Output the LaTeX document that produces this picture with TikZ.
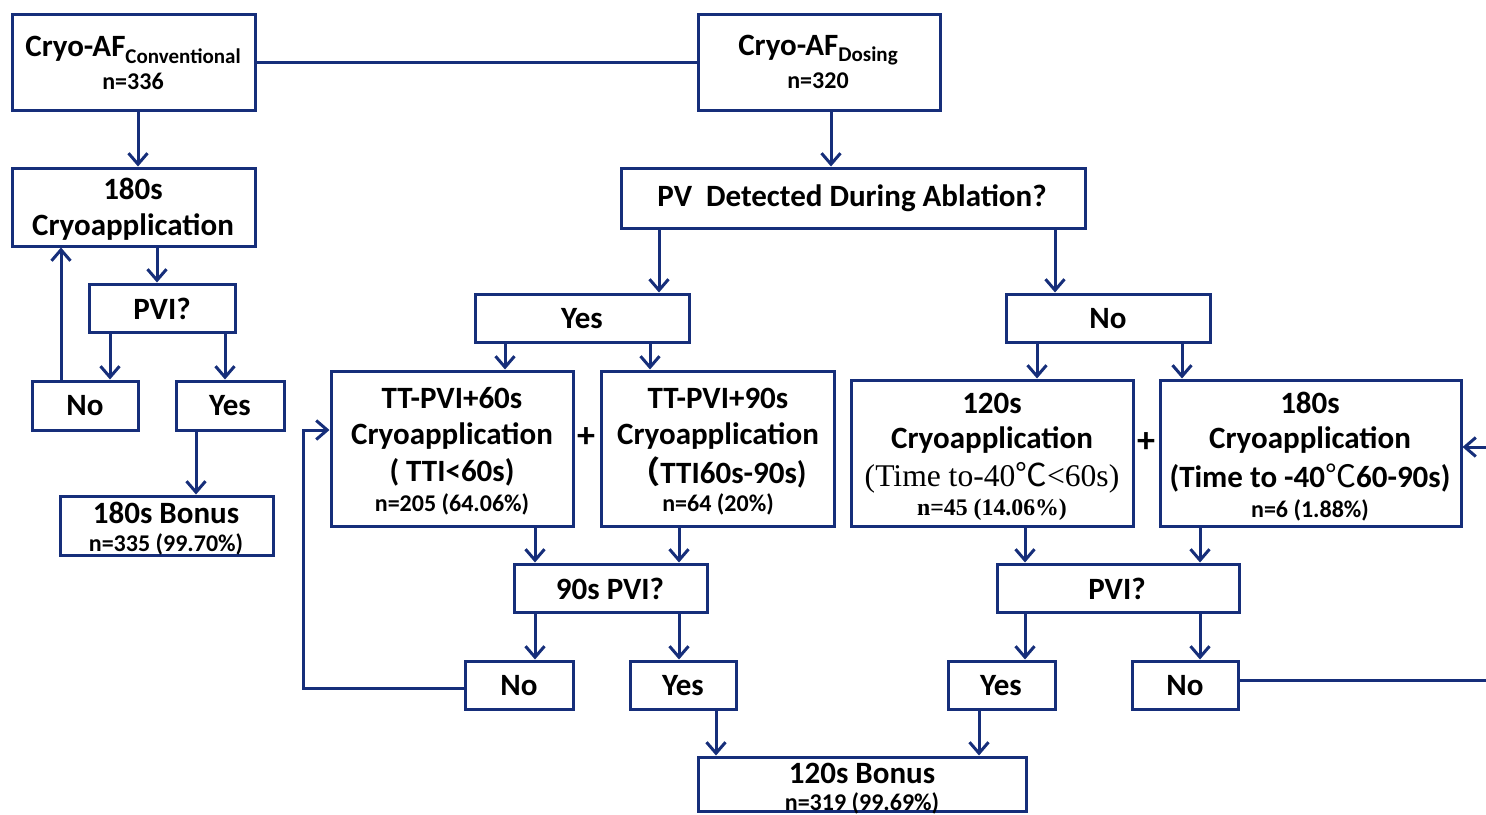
\documentclass[tikz,border=0pt]{standalone}
\usepackage{fontspec}
\setmainfont{Carlito}
\newfontfamily\tnr{Liberation Serif}
\newfontfamily\cjk{Noto Sans CJK SC}
\usetikzlibrary{arrows.meta,fit}
\definecolor{navy}{RGB}{22,46,122}
\tikzset{
  box/.style={draw=navy, line width=1.5pt, inner sep=0pt, fill=none},
  arr/.style={draw=navy, line width=1.5pt, -{Straight Barb[length=5.5pt,width=9.5pt,line width=1.5pt]}},
  ln/.style={draw=navy, line width=1.5pt},
  big/.style={inner sep=0pt, font=\bfseries\fontsize{15.5}{17}\selectfont},
  sml/.style={inner sep=0pt, font=\bfseries\fontsize{12}{13}\selectfont},
}
\begin{document}
\begin{tikzpicture}[x=0.5pt,y=-0.5pt]
\useasboundingbox (0,0) rectangle (1486,814);
% boxes
\node[box, fit={(12,14)(255,110)}] (conv) {};
\node[box, fit={(698,14)(940,110)}] (dos) {};
\node[box, fit={(12,168)(255,246)}] (cryoL) {};
\node[box, fit={(89,284)(235,332)}] (pviL) {};
\node[box, fit={(32,381)(138,430)}] (noL) {};
\node[box, fit={(176,381)(284,430)}] (yesL) {};
\node[box, fit={(60,496)(273,555)}] (bonL) {};
\node[box, fit={(621,168)(1085,228)}] (pvd) {};
\node[box, fit={(475,294)(689,342)}] (yesM) {};
\node[box, fit={(1006,294)(1210,342)}] (noM) {};
\node[box, fit={(331,371)(573,526)}] (tt60) {};
\node[box, fit={(601,371)(834,526)}] (tt90) {};
\node[box, fit={(851,380)(1133,526)}] (c120) {};
\node[box, fit={(1160,380)(1461,526)}] (c180) {};
\node[box, fit={(514,564)(707,612)}] (pvi90) {};
\node[box, fit={(997,564)(1239,612)}] (pviR) {};
\node[box, fit={(465,661)(573,709)}] (noB) {};
\node[box, fit={(630,661)(736,709)}] (yesB) {};
\node[box, fit={(948,661)(1055,709)}] (yesR) {};
\node[box, fit={(1132,661)(1238,709)}] (noR) {};
\node[box, fit={(698,757)(1026,811)}] (bonM) {};
% texts
\node[big] (t1) at (133,50) {Cryo-AF\raisebox{-0.45ex}{\fontsize{10.5}{11}\selectfont Conventional}};
\node[sml] (t2) at (133,81) {n=336};
\node[big] (t3) at (818,50) {Cryo-AF\raisebox{-0.45ex}{\fontsize{10.5}{11}\selectfont Dosing}};
\node[sml] (t4) at (818,81) {n=320};
\node[big] (t5) at (133,189) {180s};
\node[big] (t6) at (133,227) {Cryoapplication};
\node[big] (t7) at (162,309) {PVI?};
\node[big] (t8) at (85,406) {No};
\node[big] (t9) at (230,406) {Yes};
\node[big] (t10) at (166,513) {180s Bonus};
\node[sml] (t11) at (166,544) {n=335 (99.70\%)};
\node[big] (t12) at (852,198) {PV\ \ Detected During Ablation?};
\node[big] (t13) at (582,319) {Yes};
\node[big] (t14) at (1108,319) {No};
\node[big] (t15) at (452,398) {TT-PVI+60s};
\node[big] (t16) at (452,436) {Cryoapplication};
\node[big] (t17) at (452,472) {( TTI<60s)};
\node[sml] (t18) at (452,504) {n=205 (64.06\%)};
\node[big] (t19) at (718,398) {TT-PVI+90s};
\node[big] (t20) at (718,436) {Cryoapplication};
\node[big] (t21) at (718,472) {{\cjk （}TTI60s-90s)};
\node[sml] (t22) at (718,504) {n=64 (20\%)};
\node[big, font=\bfseries\fontsize{18}{18}\selectfont] (t23) at (586,438) {+};
\node[big, font=\bfseries\fontsize{18}{18}\selectfont] (t24) at (1146,443) {+};
\node[big] (t25) at (992,403) {120s};
\node[big] (t26) at (992,440) {Cryoapplication};
\node[inner sep=0pt, font=\tnr\fontsize{15.8}{17}\selectfont] (t27) at (992,478) {(Time to-40{\cjk\mdseries ℃}<60s)};
\node[inner sep=0pt, font=\tnr\bfseries\fontsize{11.9}{13}\selectfont] (t28) at (992,510) {n=45 (14.06\%)};
\node[big] (t29) at (1310,403) {180s};
\node[big] (t30) at (1310,440) {Cryoapplication};
\node[big] (t31) at (1310,478) {(Time to -40{\cjk\mdseries ℃}60-90s)};
\node[sml] (t32) at (1310,510) {n=6 (1.88\%)};
\node[big] (t33) at (610,589) {90s PVI?};
\node[big] (t34) at (1117,589) {PVI?};
\node[big] (t35) at (519,686) {No};
\node[big] (t36) at (683,686) {Yes};
\node[big] (t37) at (1001,686) {Yes};
\node[big] (t38) at (1185,686) {No};
\node[big] (t39) at (862,773) {120s Bonus};
\node[sml] (t40) at (862,803) {n=319 (99.69\%)};
% connectors
\draw[ln] (conv.east |- 0,62) -- (dos.west |- 0,62);
\draw[arr] (conv.south -| 138,0) -- (cryoL.north -| 138,0);
\draw[arr] (cryoL.south -| 157,0) -- (pviL.north -| 157,0);
\draw[arr] (pviL.south -| 110,0) -- (noL.north -| 110,0);
\draw[arr] (pviL.south -| 225,0) -- (yesL.north -| 225,0);
\draw[arr] (noL.north -| 61,0) -- (cryoL.south -| 61,0);
\draw[arr] (yesL.south -| 196,0) -- (bonL.north -| 196,0);
\draw[arr] (dos.south -| 831,0) -- (pvd.north -| 831,0);
\draw[arr] (pvd.south -| 659,0) -- (yesM.north -| 659,0);
\draw[arr] (pvd.south -| 1055,0) -- (noM.north -| 1055,0);
\draw[arr] (yesM.south -| 505,0) -- (tt60.north -| 505,0);
\draw[arr] (yesM.south -| 650,0) -- (tt90.north -| 650,0);
\draw[arr] (noM.south -| 1037,0) -- (c120.north -| 1037,0);
\draw[arr] (noM.south -| 1182,0) -- (c180.north -| 1182,0);
\draw[arr] (tt60.south -| 535,0) -- (pvi90.north -| 535,0);
\draw[arr] (tt90.south -| 679,0) -- (pvi90.north -| 679,0);
\draw[arr] (c120.south -| 1025,0) -- (pviR.north -| 1025,0);
\draw[arr] (c180.south -| 1200,0) -- (pviR.north -| 1200,0);
\draw[arr] (pvi90.south -| 535,0) -- (noB.north -| 535,0);
\draw[arr] (pvi90.south -| 679,0) -- (yesB.north -| 679,0);
\draw[arr] (pviR.south -| 1025,0) -- (yesR.north -| 1025,0);
\draw[arr] (pviR.south -| 1200,0) -- (noR.north -| 1200,0);
\draw[arr] (yesB.south -| 716,0) -- (bonM.north -| 716,0);
\draw[arr] (yesR.south -| 979,0) -- (bonM.north -| 979,0);
\draw[arr] (noB.west |- 0,688) -- (303,688) -- (303,430) -- (tt60.west |- 0,430);
\coordinate (exitR) at (1490,680);
\coordinate (entR) at (1490,447);
\draw[ln] (noR.east |- 0,680) -- (exitR);
\draw[arr] (entR) -- (c180.east |- 0,447);
\end{tikzpicture}
\end{document}
